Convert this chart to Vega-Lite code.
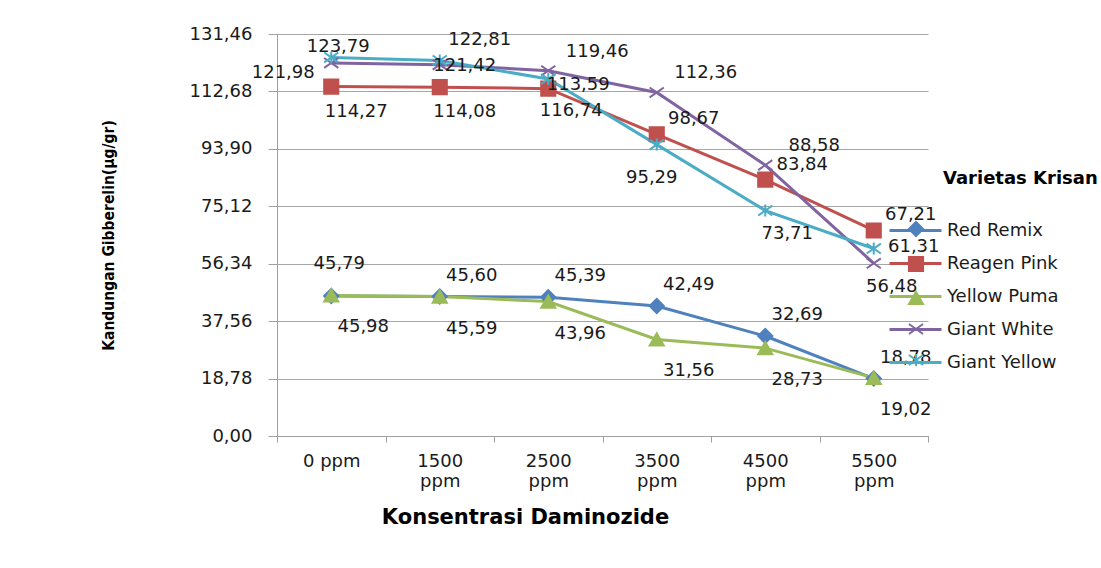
{
  "$schema": "https://vega.github.io/schema/vega-lite/v6.json",
  "width": 651,
  "height": 402,
  "autosize": {"type": "none"},
  "padding": {"left": 277, "top": 34, "right": 173, "bottom": 132},
  "background": "white",
  "config": {
    "locale": {"number": {"decimal": ",", "thousands": ".", "grouping": [3], "currency": ["", ""]}},
    "view": {"stroke": null},
    "text": {"font": "DejaVu Sans", "fontSize": 18, "color": "#1a1a1a", "align": "center", "baseline": "middle"}
  },
  "data": {
    "values": [
      {"Konsentrasi": "0 ppm", "Varietas": "Red Remix", "Gibberelin": 45.79},
      {"Konsentrasi": "1500 ppm", "Varietas": "Red Remix", "Gibberelin": 45.60},
      {"Konsentrasi": "2500 ppm", "Varietas": "Red Remix", "Gibberelin": 45.39},
      {"Konsentrasi": "3500 ppm", "Varietas": "Red Remix", "Gibberelin": 42.49},
      {"Konsentrasi": "4500 ppm", "Varietas": "Red Remix", "Gibberelin": 32.69},
      {"Konsentrasi": "5500 ppm", "Varietas": "Red Remix", "Gibberelin": 18.78},
      {"Konsentrasi": "0 ppm", "Varietas": "Reagen Pink", "Gibberelin": 114.27},
      {"Konsentrasi": "1500 ppm", "Varietas": "Reagen Pink", "Gibberelin": 114.08},
      {"Konsentrasi": "2500 ppm", "Varietas": "Reagen Pink", "Gibberelin": 113.59},
      {"Konsentrasi": "3500 ppm", "Varietas": "Reagen Pink", "Gibberelin": 98.67},
      {"Konsentrasi": "4500 ppm", "Varietas": "Reagen Pink", "Gibberelin": 83.84},
      {"Konsentrasi": "5500 ppm", "Varietas": "Reagen Pink", "Gibberelin": 67.21},
      {"Konsentrasi": "0 ppm", "Varietas": "Yellow Puma", "Gibberelin": 45.98},
      {"Konsentrasi": "1500 ppm", "Varietas": "Yellow Puma", "Gibberelin": 45.59},
      {"Konsentrasi": "2500 ppm", "Varietas": "Yellow Puma", "Gibberelin": 43.96},
      {"Konsentrasi": "3500 ppm", "Varietas": "Yellow Puma", "Gibberelin": 31.56},
      {"Konsentrasi": "4500 ppm", "Varietas": "Yellow Puma", "Gibberelin": 28.73},
      {"Konsentrasi": "5500 ppm", "Varietas": "Yellow Puma", "Gibberelin": 19.02},
      {"Konsentrasi": "0 ppm", "Varietas": "Giant White", "Gibberelin": 121.98},
      {"Konsentrasi": "1500 ppm", "Varietas": "Giant White", "Gibberelin": 121.42},
      {"Konsentrasi": "2500 ppm", "Varietas": "Giant White", "Gibberelin": 119.46},
      {"Konsentrasi": "3500 ppm", "Varietas": "Giant White", "Gibberelin": 112.36},
      {"Konsentrasi": "4500 ppm", "Varietas": "Giant White", "Gibberelin": 88.58},
      {"Konsentrasi": "5500 ppm", "Varietas": "Giant White", "Gibberelin": 56.48},
      {"Konsentrasi": "0 ppm", "Varietas": "Giant Yellow", "Gibberelin": 123.79},
      {"Konsentrasi": "1500 ppm", "Varietas": "Giant Yellow", "Gibberelin": 122.81},
      {"Konsentrasi": "2500 ppm", "Varietas": "Giant Yellow", "Gibberelin": 116.74},
      {"Konsentrasi": "3500 ppm", "Varietas": "Giant Yellow", "Gibberelin": 95.29},
      {"Konsentrasi": "4500 ppm", "Varietas": "Giant Yellow", "Gibberelin": 73.71},
      {"Konsentrasi": "5500 ppm", "Varietas": "Giant Yellow", "Gibberelin": 61.31}
    ]
  },
  "encoding": {
    "x": {
      "field": "Konsentrasi", "type": "nominal", "bandPosition": 0.5,
      "sort": ["0 ppm", "1500 ppm", "2500 ppm", "3500 ppm", "4500 ppm", "5500 ppm"],
      "scale": {"type": "band", "paddingInner": 0, "paddingOuter": 0},
      "axis": {
        "title": "Konsentrasi Daminozide", "tickBand": "extent", "labelAngle": 0, "grid": false,
        "domainColor": "#a0a0a0", "tickColor": "#a0a0a0", "tickSize": 6, "labelPadding": 10,
        "labelFont": "DejaVu Sans", "labelFontSize": 18, "labelColor": "#1a1a1a", "labelLineHeight": 20,
        "labelBaseline": "top",
        "labelExpr": "datum.label == '0 ppm' ? datum.label : split(datum.label, ' ')",
        "titleFont": "DejaVu Sans", "titleFontSize": 21, "titleFontWeight": "bold", "titleColor": "#000000",
        "titleX": 248, "titleY": 70, "titleAlign": "center", "titleBaseline": "top"
      }
    },
    "y": {
      "field": "Gibberelin", "type": "quantitative",
      "scale": {"domain": [0, 131.46], "nice": false, "zero": true},
      "axis": {
        "title": "Kandungan Gibberelin(µg/gr)",
        "values": [0, 18.78, 37.56, 56.34, 75.12, 93.90, 112.68, 131.46],
        "format": ".2f", "grid": true, "gridColor": "#a6a6a6", "gridWidth": 1,
        "domainColor": "#a0a0a0", "tickColor": "#a0a0a0", "tickSize": 9, "labelPadding": 16,
        "labelFont": "DejaVu Sans", "labelFontSize": 18, "labelColor": "#1a1a1a",
        "titleFont": "Liberation Sans Narrow, DejaVu Sans Condensed", "titleFontSize": 15.5, "titleFontWeight": "bold",
        "titleColor": "#000000", "titleAngle": 270, "titleX": -169, "titleY": 201,
        "titleAlign": "center", "titleBaseline": "middle"
      }
    }
  },
  "layer": [
    {
      "mark": {"type": "line", "strokeWidth": 3},
      "encoding": {
        "color": {
          "field": "Varietas", "type": "nominal",
          "sort": ["Red Remix", "Reagen Pink", "Yellow Puma", "Giant White", "Giant Yellow"],
          "scale": {"range": ["#4F81BD", "#C0504D", "#9BBB59", "#8064A2", "#4BACC6"]},
          "legend": {
            "orient": "none", "legendX": 617, "legendY": 175, "title": null, "padding": 0,
            "symbolType": "M-1.3,0L1.3,0", "symbolSize": 1600, "symbolStrokeWidth": 3,
            "labelFont": "DejaVu Sans", "labelFontSize": 18, "labelColor": "#1a1a1a", "labelOffset": 10,
            "rowPadding": 2
          }
        }
      }
    },
    {
      "mark": {"type": "point", "size": 200, "strokeWidth": 2, "opacity": 1, "filled": true},
      "encoding": {
        "fill": {
          "field": "Varietas", "type": "nominal",
          "scale": {"domain": ["Red Remix", "Reagen Pink", "Yellow Puma", "Giant White", "Giant Yellow"], "range": ["#4F81BD", "#C0504D", "#9BBB59", "#8064A2", "#4BACC6"]},
          "legend": {
            "orient": "none", "legendX": 666, "legendY": 136, "title": "Varietas Krisan", "padding": 0,
            "titleFont": "DejaVu Sans", "titleFontSize": 18, "titleFontWeight": "bold", "titleColor": "#000000",
            "titlePadding": 32, "symbolOffset": -36, "symbolSize": 200, "symbolStrokeWidth": 2,
            "labelFont": "DejaVu Sans", "labelFontSize": 18, "labelExpr": "''", "rowPadding": 11
          }
        },
        "stroke": {
          "field": "Varietas", "type": "nominal",
          "scale": {"domain": ["Red Remix", "Reagen Pink", "Yellow Puma", "Giant White", "Giant Yellow"], "range": ["#4F81BD", "#C0504D", "#9BBB59", "#8064A2", "#4BACC6"]},
          "legend": {
            "orient": "none", "legendX": 666, "legendY": 136, "title": "Varietas Krisan", "padding": 0,
            "titleFont": "DejaVu Sans", "titleFontSize": 18, "titleFontWeight": "bold", "titleColor": "#000000",
            "titlePadding": 32, "symbolOffset": -36, "symbolSize": 200, "symbolStrokeWidth": 2,
            "labelFont": "DejaVu Sans", "labelFontSize": 18, "labelExpr": "''", "rowPadding": 11
          }
        },
        "shape": {
          "field": "Varietas", "type": "nominal",
          "scale": {"domain": ["Red Remix", "Reagen Pink", "Yellow Puma", "Giant White", "Giant Yellow"], "range": ["diamond", "square", "triangle-up", "M-1,-0.7L1,0.7M-1,0.7L1,-0.7", "M-1,-0.7L1,0.7M-1,0.7L1,-0.7M0,-0.85L0,0.85"]},
          "legend": {
            "orient": "none", "legendX": 666, "legendY": 136, "title": "Varietas Krisan", "padding": 0,
            "titleFont": "DejaVu Sans", "titleFontSize": 18, "titleFontWeight": "bold", "titleColor": "#000000",
            "titlePadding": 32, "symbolOffset": -36, "symbolSize": 200, "symbolStrokeWidth": 2,
            "labelFont": "DejaVu Sans", "labelFontSize": 18, "labelExpr": "''", "rowPadding": 11
          }
        }
      }
    },
    {"transform": [{"filter": "datum.Varietas == 'Red Remix' && datum.Konsentrasi == '0 ppm'"}], "mark": {"type": "text", "dx": 8, "dy": -32}, "encoding": {"text": {"field": "Gibberelin", "type": "quantitative", "format": ".2f"}}},
    {"transform": [{"filter": "datum.Varietas == 'Red Remix' && datum.Konsentrasi != '0 ppm'"}], "mark": {"type": "text", "dx": 32, "dy": -21}, "encoding": {"text": {"field": "Gibberelin", "type": "quantitative", "format": ".2f"}}},
    {"transform": [{"filter": "datum.Varietas == 'Yellow Puma'"}], "mark": {"type": "text", "dx": 32, "dy": 32}, "encoding": {"text": {"field": "Gibberelin", "type": "quantitative", "format": ".2f"}}},
    {"transform": [{"filter": "datum.Varietas == 'Reagen Pink' && (datum.Konsentrasi == '0 ppm' || datum.Konsentrasi == '1500 ppm')"}], "mark": {"type": "text", "dx": 25, "dy": 25}, "encoding": {"text": {"field": "Gibberelin", "type": "quantitative", "format": ".2f"}}},
    {"transform": [{"filter": "datum.Varietas == 'Reagen Pink' && datum.Konsentrasi == '2500 ppm'"}], "mark": {"type": "text", "dx": 30, "dy": -4}, "encoding": {"text": {"field": "Gibberelin", "type": "quantitative", "format": ".2f"}}},
    {"transform": [{"filter": "datum.Varietas == 'Reagen Pink' && (datum.Konsentrasi == '3500 ppm' || datum.Konsentrasi == '4500 ppm' || datum.Konsentrasi == '5500 ppm')"}], "mark": {"type": "text", "dx": 37, "dy": -15}, "encoding": {"text": {"field": "Gibberelin", "type": "quantitative", "format": ".2f"}}},
    {"transform": [{"filter": "datum.Varietas == 'Giant White' && datum.Konsentrasi == '0 ppm'"}], "mark": {"type": "text", "dx": -48, "dy": 10}, "encoding": {"text": {"field": "Gibberelin", "type": "quantitative", "format": ".2f"}}},
    {"transform": [{"filter": "datum.Varietas == 'Giant White' && datum.Konsentrasi == '1500 ppm'"}], "mark": {"type": "text", "dx": 25, "dy": 1}, "encoding": {"text": {"field": "Gibberelin", "type": "quantitative", "format": ".2f"}}},
    {"transform": [{"filter": "datum.Varietas == 'Giant White' && (datum.Konsentrasi == '2500 ppm' || datum.Konsentrasi == '3500 ppm' || datum.Konsentrasi == '4500 ppm')"}], "mark": {"type": "text", "dx": 49, "dy": -19}, "encoding": {"text": {"field": "Gibberelin", "type": "quantitative", "format": ".2f"}}},
    {"transform": [{"filter": "datum.Varietas == 'Giant White' && datum.Konsentrasi == '5500 ppm'"}], "mark": {"type": "text", "dx": 18, "dy": 24}, "encoding": {"text": {"field": "Gibberelin", "type": "quantitative", "format": ".2f"}}},
    {"transform": [{"filter": "datum.Varietas == 'Giant Yellow' && datum.Konsentrasi == '0 ppm'"}], "mark": {"type": "text", "dx": 7, "dy": -10}, "encoding": {"text": {"field": "Gibberelin", "type": "quantitative", "format": ".2f"}}},
    {"transform": [{"filter": "datum.Varietas == 'Giant Yellow' && datum.Konsentrasi == '1500 ppm'"}], "mark": {"type": "text", "dx": 40, "dy": -20}, "encoding": {"text": {"field": "Gibberelin", "type": "quantitative", "format": ".2f"}}},
    {"transform": [{"filter": "datum.Varietas == 'Giant Yellow' && datum.Konsentrasi == '2500 ppm'"}], "mark": {"type": "text", "dx": 23, "dy": 32}, "encoding": {"text": {"field": "Gibberelin", "type": "quantitative", "format": ".2f"}}},
    {"transform": [{"filter": "datum.Varietas == 'Giant Yellow' && datum.Konsentrasi == '3500 ppm'"}], "mark": {"type": "text", "dx": -5, "dy": 33}, "encoding": {"text": {"field": "Gibberelin", "type": "quantitative", "format": ".2f"}}},
    {"transform": [{"filter": "datum.Varietas == 'Giant Yellow' && datum.Konsentrasi == '4500 ppm'"}], "mark": {"type": "text", "dx": 22, "dy": 23}, "encoding": {"text": {"field": "Gibberelin", "type": "quantitative", "format": ".2f"}}},
    {"transform": [{"filter": "datum.Varietas == 'Giant Yellow' && datum.Konsentrasi == '5500 ppm'"}], "mark": {"type": "text", "dx": 40, "dy": -2}, "encoding": {"text": {"field": "Gibberelin", "type": "quantitative", "format": ".2f"}}}
  ]
}
